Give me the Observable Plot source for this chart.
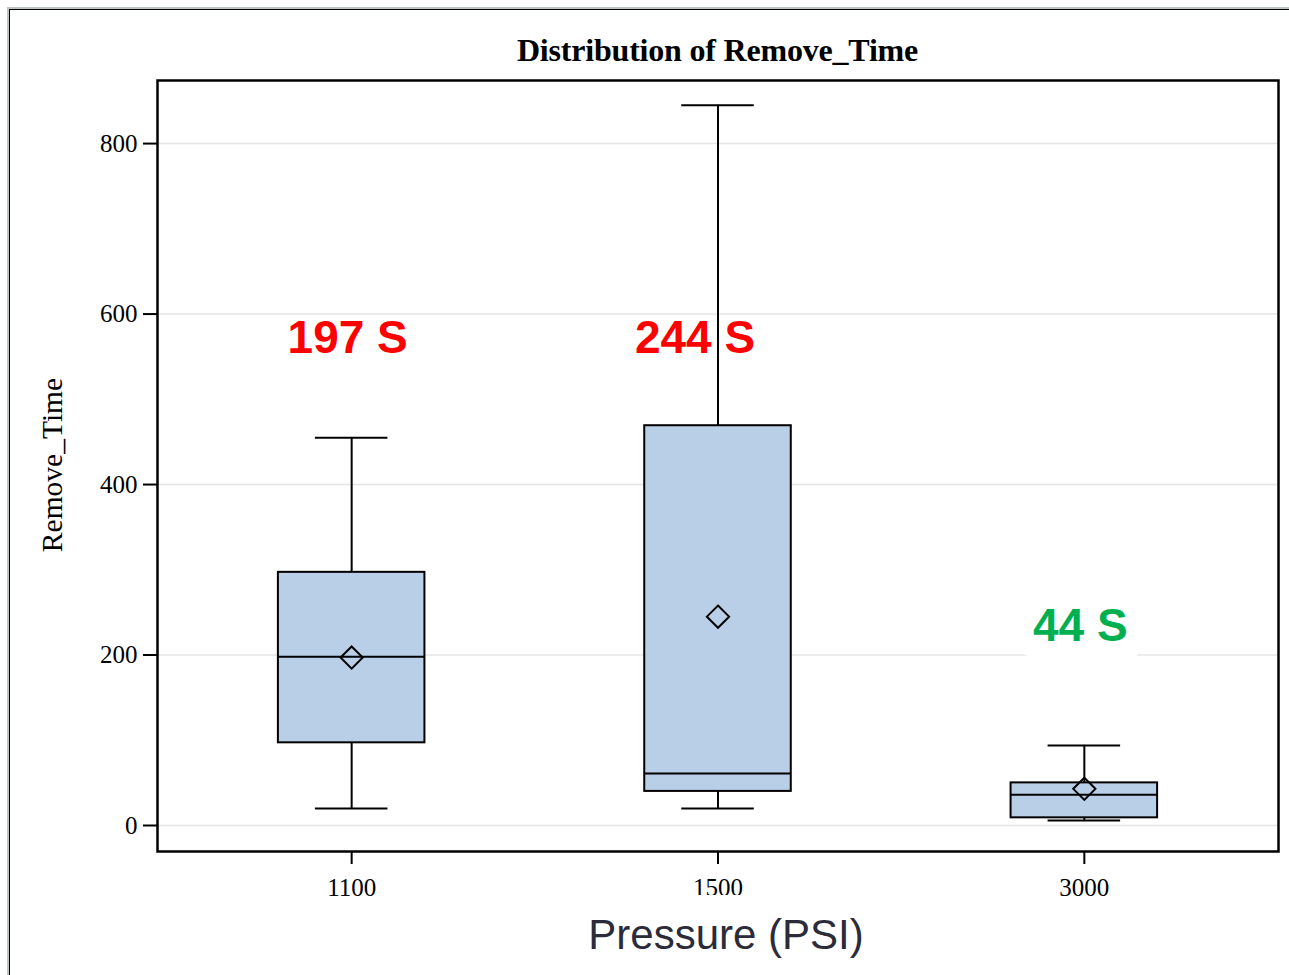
<!DOCTYPE html>
<html>
<head>
<meta charset="utf-8">
<script src="https://cdn.jsdelivr.net/npm/d3@7"></script>
<script src="https://cdn.jsdelivr.net/npm/@observablehq/plot@0.6"></script>
<style>
  html, body { margin: 0; padding: 0; background: #fff; }
  #wrap { position: relative; width: 1289px; height: 975px; overflow: hidden; background: #fff; }
  #wrap svg { position: absolute; left: 0; top: 0; }
  .outer-grey { position: absolute; left: 7px; top: 7px; width: 1300px; height: 1000px; border-top: 2px solid #bfc5bf; border-left: 2px solid #bfc5bf; }
  .outer-black { position: absolute; left: 9px; top: 9px; width: 1300px; height: 1000px; border-top: 1.5px solid #000; border-left: 1.5px solid #000; }
  #title { position: absolute; left: 157px; width: 1121px; top: 32px; line-height: 36px; text-align: center;
           font-family: "Liberation Serif", "Times New Roman", serif; font-weight: bold; font-size: 32px; color: #000; letter-spacing: -0.2px; }
  #ylab { position: absolute; left: -148px; top: 447px; width: 400px; height: 36px; line-height: 36px; text-align: center;
          font-family: "Liberation Serif", "Times New Roman", serif; font-size: 29.5px; color: #000; transform: rotate(-90deg); }
  #xlab { position: absolute; left: 566px; width: 320px; top: 895px; padding-top: 19px; height: 60px; line-height: 42px; text-align: center; background: #fff;
          font-family: "Liberation Sans", Arial, sans-serif; font-size: 42px; color: #2b2b3a; }
</style>
</head>
<body>
<div id="wrap">
  <div class="outer-grey"></div>
  <div class="outer-black"></div>
  <div id="title">Distribution of Remove_Time</div>
  <div id="ylab">Remove_Time</div>
</div>
<script>
// ---- data ----
const pressures   = ["1100", "1500", "3000"];
const whiskerLow  = [20, 20, 6];
const q1          = [97, 40, 9];
const median      = [198, 61, 36];
const q3          = [297, 469, 50];
const whiskerHigh = [455, 845, 94];
const mean        = [197, 245, 43];
const labelText   = ["197 S", "244 S", "44 S"];
const labelValue  = [572, 572, 234];
const labelColor  = ["#ff0000", "#ff0000", "#00b050"];
const yTicks      = [0, 200, 400, 600, 800];

const rows = pressures.map((p, i) => ({
  p, lo: whiskerLow[i], q1: q1[i], med: median[i], q3: q3[i], hi: whiskerHigh[i], mean: mean[i]
}));
const labels = pressures.map((p, i) => ({ p, text: labelText[i], y: labelValue[i], color: labelColor[i] }));
const labelDx = [-4, -23, -4];
const labelHalo = [false, false, true];

const boxFill = "#b9cfe7";

const labelMarks = labels.map((d, i) => Plot.text([d], {
  x: "p", y: "y", text: "text", fill: "color",
  dx: labelDx[i],
  fontFamily: "'Liberation Sans', Arial, sans-serif",
  fontWeight: "bold", fontSize: 46,
  stroke: labelHalo[i] ? "white" : null,
  strokeWidth: labelHalo[i] ? 44 : 0,
  strokeLinejoin: "round",
  paintOrder: "stroke"
}));

const chart = Plot.plot({
  width: 1289,
  height: 975,
  marginLeft: 157,
  marginRight: 11,
  marginTop: 80,
  marginBottom: 124,
  style: { fontFamily: "'Liberation Serif', 'Times New Roman', serif", background: "transparent", color: "#000" },
  x: { type: "band", domain: pressures, paddingInner: 0.6, paddingOuter: 0.33, round: false, label: null },
  y: { domain: [-30.5, 874], label: null },
  marks: [
    Plot.gridY(yTicks, { stroke: "#e4e4e4", strokeOpacity: 1, strokeWidth: 1.5 }),
    Plot.ruleX(rows, { x: "p", y1: "lo", y2: "q1", stroke: "black", strokeWidth: 2 }),
    Plot.ruleX(rows, { x: "p", y1: "q3", y2: "hi", stroke: "black", strokeWidth: 2 }),
    Plot.tickY(rows, { x: "p", y: "lo", insetLeft: 37, insetRight: 37, stroke: "black", strokeWidth: 2 }),
    Plot.tickY(rows, { x: "p", y: "hi", insetLeft: 37, insetRight: 37, stroke: "black", strokeWidth: 2 }),
    Plot.barY(rows, { x: "p", y1: "q1", y2: "q3", fill: boxFill, stroke: "black", strokeWidth: 2 }),
    Plot.tickY(rows, { x: "p", y: "med", stroke: "black", strokeWidth: 2 }),
    Plot.dot(rows, { x: "p", y: "mean", symbol: "diamond2", r: 10, stroke: "black", fill: "none", strokeWidth: 2 }),
    ...labelMarks,
    Plot.axisY(yTicks, { tickSize: 14, tickPadding: 6, fontSize: 25, strokeWidth: 2, label: null }),
    Plot.axisX({ tickSize: 13, tickPadding: 14, fontSize: 25, strokeWidth: 2, label: null }),
    Plot.frame({ stroke: "black", strokeWidth: 2.5 })
  ]
});

const wrap = document.getElementById("wrap");
wrap.insertBefore(chart, wrap.firstChild);
const xlab = document.createElement("div");
xlab.id = "xlab";
xlab.textContent = "Pressure (PSI)";
wrap.appendChild(xlab);
</script>
</body>
</html>
